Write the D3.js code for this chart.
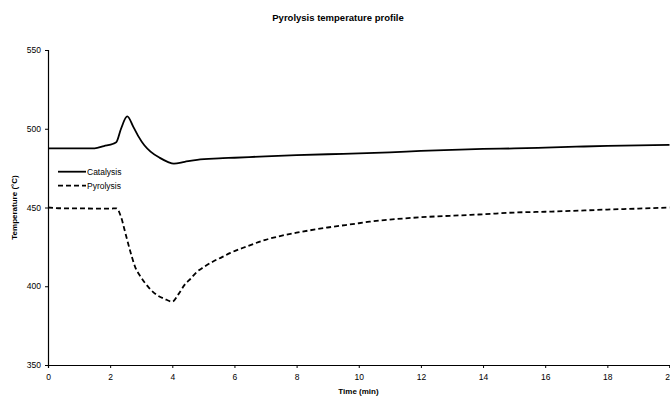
<!DOCTYPE html>
<html><head><meta charset="utf-8">
<script src="https://cdn.jsdelivr.net/npm/d3@7"></script>
<style>body{margin:0;background:#fff}svg{display:block}text{font-family:Arial,"Liberation Sans",sans-serif}</style>
</head><body><div id="chart"></div>
<script>
const chartTitle = "Pyrolysis temperature profile";
const xTitle = "Time (min)";
const yTitle = "Temperature (°C)";
const xTicks = [0,2,4,6,8,10,12,14,16,18,20];
const yTicks = [350,400,450,500,550];
const seriesNames = ["Catalysis","Pyrolysis"];
const catalysisTime = [0,0.5,1,1.5,1.8,2.1,2.2,2.35,2.55,2.75,2.9,3.1,3.3,3.6,3.85,4.05,4.4,4.8,5.5,6,7,8,9,10,11,12,13,14,15,16,17,18,19,20];
const catalysisTemp = [487.5,487.5,487.6,487.6,489,490.5,491.5,500,507.8,501,495.5,489.5,485.5,481.5,479,477.8,479,480.3,481.2,481.6,482.5,483.2,483.8,484.4,485,485.9,486.6,487.2,487.5,488,488.6,489.1,489.4,489.7];
const pyrolysisTime = [0,0.5,1,1.5,2,2.2,2.35,2.5,2.65,2.8,3.0,3.25,3.5,3.75,4.0,4.2,4.4,4.6,4.8,5.0,5.3,5.6,5.85,6.4,7.0,7.5,8,9,10,10.35,11,12,13,13.6,14,15,16,16.8,18,19,20];
const pyrolysisTemp = [450,449.5,449.5,449.3,449.3,449.5,444,433,422,412.5,405.5,399,394.5,392,390.2,395,401,405,409.3,412,415.6,418.5,421,425.3,429.5,432,434,437.3,440,441,442.3,443.8,444.8,445.3,445.7,446.8,447.3,447.8,448.7,449.3,450];

const W = 670, H = 398;
const m = {left:48, right:0.5, top:50, bottom:33};
const svg = d3.select("#chart").append("svg").attr("width",W).attr("height",H);
const x = d3.scaleLinear().domain([0,20]).range([m.left, W - m.right]);
const y = d3.scaleLinear().domain([350,550]).range([H - m.bottom, m.top]);

svg.append("text").attr("x",338).attr("y",21).attr("text-anchor","middle")
  .attr("font-size","9.5px").attr("font-weight","bold").text(chartTitle);

const xAxis = svg.append("g").attr("transform",`translate(0,${y(350)})`)
  .call(d3.axisBottom(x).tickValues(xTicks).tickSize(3).tickPadding(6).tickFormat(d3.format("d")));
const yAxis = svg.append("g").attr("transform",`translate(${x(0)},0)`)
  .call(d3.axisLeft(y).tickValues(yTicks).tickSize(3).tickPadding(4).tickFormat(d3.format("d")));
[xAxis,yAxis].forEach(g=>{
  g.select(".domain").attr("stroke","#000").attr("stroke-width",1.2);
  g.selectAll(".tick line").attr("stroke","#000");
  g.selectAll(".tick text").attr("font-size","8.5px").attr("fill","#000").attr("font-family","Arial, 'Liberation Sans', sans-serif");
});

svg.append("text").attr("x",358.5).attr("y",394).attr("text-anchor","middle")
  .attr("font-size","8px").attr("font-weight","bold").text(xTitle);
svg.append("text").attr("transform",`translate(17,${(y(350)+y(550))/2}) rotate(-90)`)
  .attr("text-anchor","middle").attr("font-size","8px").attr("font-weight","bold").text(yTitle);

const line = d3.line().x(d=>x(d[0])).y(d=>y(d[1])).curve(d3.curveMonotoneX);
const catData = catalysisTime.map((t,i)=>[t,catalysisTemp[i]]);
const pyrData = pyrolysisTime.map((t,i)=>[t,pyrolysisTemp[i]]);
svg.append("path").datum(catData).attr("d",line).attr("fill","none").attr("stroke","#000").attr("stroke-width",1.8);
svg.append("path").datum(pyrData).attr("d",line).attr("fill","none").attr("stroke","#000").attr("stroke-width",1.8).attr("stroke-dasharray","5,3");

const dashes = [null,"5,3"];
seriesNames.forEach((n,i)=>{
  const ly = 171.7 + i*14;
  svg.append("line").attr("x1",58).attr("x2",86).attr("y1",ly).attr("y2",ly)
    .attr("stroke","#000").attr("stroke-width",1.8).attr("stroke-dasharray",dashes[i]);
  svg.append("text").attr("x",87).attr("y",ly+3).attr("font-size","8.5px").text(n);
});
</script></body></html>
